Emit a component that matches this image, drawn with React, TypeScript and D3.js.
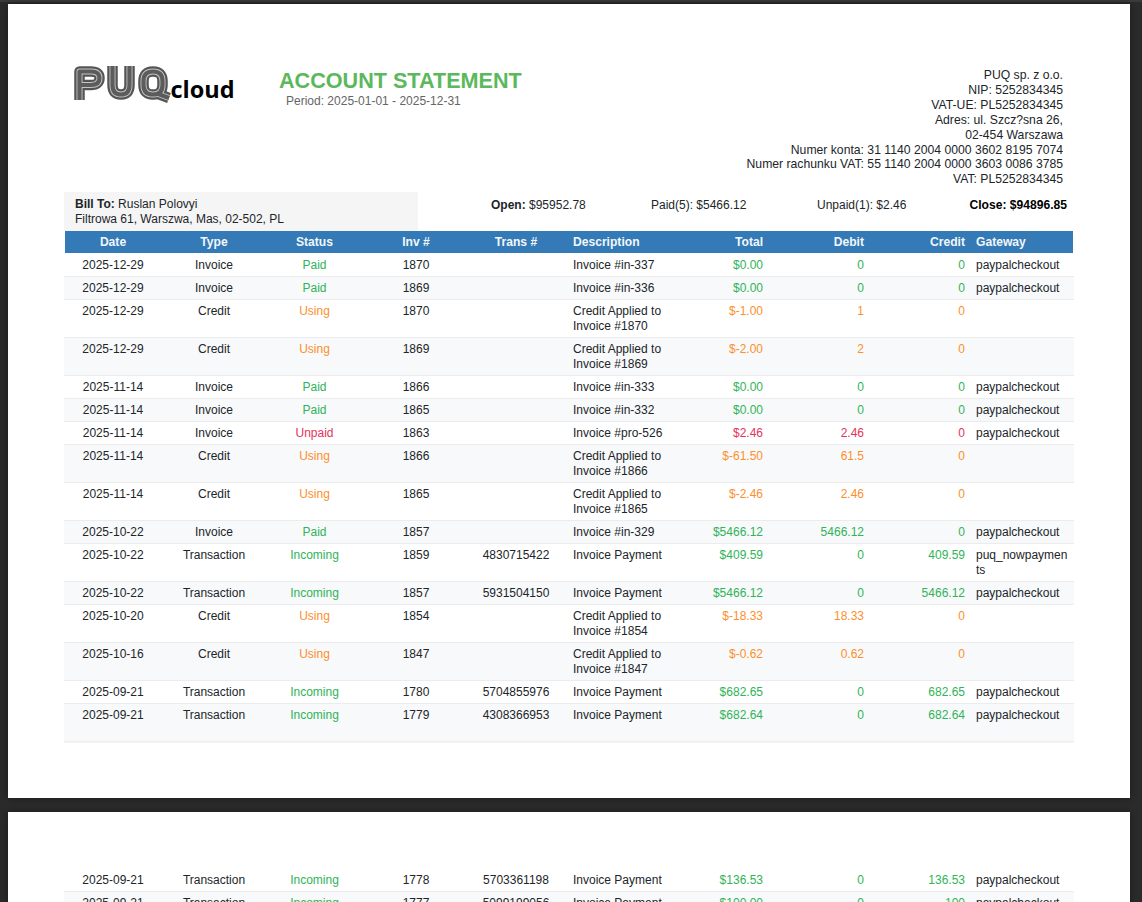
import React from 'react'
import * as d3 from 'd3'

const dates = ['2025-12-29', '2025-12-29', '2025-12-29', '2025-12-29', '2025-11-14', '2025-11-14', '2025-11-14', '2025-11-14', '2025-11-14', '2025-10-22', '2025-10-22', '2025-10-22', '2025-10-20', '2025-10-16', '2025-09-21', '2025-09-21']
const types = ['Invoice', 'Invoice', 'Credit', 'Credit', 'Invoice', 'Invoice', 'Invoice', 'Credit', 'Credit', 'Invoice', 'Transaction', 'Transaction', 'Credit', 'Credit', 'Transaction', 'Transaction']
const statuses = ['Paid', 'Paid', 'Using', 'Using', 'Paid', 'Paid', 'Unpaid', 'Using', 'Using', 'Paid', 'Incoming', 'Incoming', 'Using', 'Using', 'Incoming', 'Incoming']
const invoices = ['1870', '1869', '1870', '1869', '1866', '1865', '1863', '1866', '1865', '1857', '1859', '1857', '1854', '1847', '1780', '1779']
const transIds = ['', '', '', '', '', '', '', '', '', '', '4830715422', '5931504150', '', '', '5704855976', '4308366953']
const descriptions = [['Invoice #in-337'], ['Invoice #in-336'], ['Credit Applied to', 'Invoice #1870'], ['Credit Applied to', 'Invoice #1869'], ['Invoice #in-333'], ['Invoice #in-332'], ['Invoice #pro-526'], ['Credit Applied to', 'Invoice #1866'], ['Credit Applied to', 'Invoice #1865'], ['Invoice #in-329'], ['Invoice Payment'], ['Invoice Payment'], ['Credit Applied to', 'Invoice #1854'], ['Credit Applied to', 'Invoice #1847'], ['Invoice Payment'], ['Invoice Payment']]
const totals = ['$0.00', '$0.00', '$-1.00', '$-2.00', '$0.00', '$0.00', '$2.46', '$-61.50', '$-2.46', '$5466.12', '$409.59', '$5466.12', '$-18.33', '$-0.62', '$682.65', '$682.64']
const debits = ['0', '0', '1', '2', '0', '0', '2.46', '61.5', '2.46', '5466.12', '0', '0', '18.33', '0.62', '0', '0']
const credits = ['0', '0', '0', '0', '0', '0', '0', '0', '0', '0', '409.59', '5466.12', '0', '0', '682.65', '682.64']
const gateways = [['paypalcheckout'], ['paypalcheckout'], [], [], ['paypalcheckout'], ['paypalcheckout'], ['paypalcheckout'], [], [], ['paypalcheckout'], ['puq_nowpaymen', 'ts'], ['paypalcheckout'], [], [], ['paypalcheckout'], ['paypalcheckout']]

const nextDates = ['2025-09-21', '2025-09-21']
const nextTypes = ['Transaction', 'Transaction']
const nextStatuses = ['Incoming', 'Incoming']
const nextInvoices = ['1778', '1777']
const nextTransIds = ['5703361198', '5099199056']
const nextDescriptions = [['Invoice Payment'], ['Invoice Payment']]
const nextTotals = ['$136.53', '$100.00']
const nextDebits = ['0', '0']
const nextCredits = ['136.53', '100']
const nextGateways = [['paypalcheckout'], ['paypalcheckout']]

const headers = ['Date', 'Type', 'Status', 'Inv #', 'Trans #', 'Description', 'Total', 'Debit', 'Credit', 'Gateway']
const companyLines = ['PUQ sp. z o.o.', 'NIP: 5252834345', 'VAT-UE: PL5252834345', 'Adres: ul. Szcz?sna 26,', '02-454 Warszawa', 'Numer konta: 31 1140 2004 0000 3602 8195 7074', 'Numer rachunku VAT: 55 1140 2004 0000 3603 0086 3785', 'VAT: PL5252834345']

const FONT = '"Liberation Sans", Arial, sans-serif'
const BLUE = '#337ab7'

const statusColor = d3.scaleOrdinal<string, string>()
  .domain(['Paid', 'Incoming', 'Using', 'Unpaid'])
  .range(['#2fb457', '#2fb457', '#fd8f2c', '#e6335a'])

// anchor x of every column, in table order
const colX = d3.scaleOrdinal<string, number>()
  .domain(headers)
  .range([113, 214, 314.5, 416, 516, 573, 763, 864, 965, 976])

const lineH = 15

interface Row {
  date: string; type: string; status: string; inv: string; trans: string
  desc: string[]; total: string; debit: string; credit: string; gate: string[]; tall?: boolean
}

const rowHeight = (r: Row) => (r.tall || Math.max(r.desc.length, r.gate.length, 1) === 2 ? 38 : 23)

const buildRows = (d: string[], t: string[], s: string[], i: string[], tr: string[], de: string[][], to: string[], db: string[], cr: string[], g: string[][]): Row[] =>
  d.map((date, k) => ({ date, type: t[k], status: s[k], inv: i[k], trans: tr[k], desc: de[k], total: to[k], debit: db[k], credit: cr[k], gate: g[k] }))

const rows = buildRows(dates, types, statuses, invoices, transIds, descriptions, totals, debits, credits, gateways)
rows[rows.length - 1].tall = true // last row on the sheet is stretched
const nextRows = buildRows(nextDates, nextTypes, nextStatuses, nextInvoices, nextTransIds, nextDescriptions, nextTotals, nextDebits, nextCredits, nextGateways)

const TableRows: React.FC<{ data: Row[]; top: number }> = ({ data, top }) => {
  let y = top
  return (
    <g fontFamily={FONT} fontSize={12}>
      {data.map((r, i) => {
        const h = rowHeight(r)
        const y0 = y
        y += h
        const base = y0 + 15
        const c = statusColor(r.status)
        return (
          <g key={i}>
            <rect x={64} y={y0} width={1010} height={h} fill={i % 2 === 1 ? '#f8f9fa' : '#fff'} />
            <line x1={64} x2={1074} y1={y0 + h - 0.3} y2={y0 + h - 0.3} stroke="#ececec" strokeWidth={1.4} />
            <text x={colX('Date')} y={base} textAnchor="middle" fill="#212529">{r.date}</text>
            <text x={colX('Type')} y={base} textAnchor="middle" fill="#212529">{r.type}</text>
            <text x={colX('Status')} y={base} textAnchor="middle" fill={c}>{r.status}</text>
            <text x={colX('Inv #')} y={base} textAnchor="middle" fill="#212529">{r.inv}</text>
            <text x={colX('Trans #')} y={base} textAnchor="middle" fill="#212529">{r.trans}</text>
            {r.desc.map((l, j) => <text key={j} x={colX('Description')} y={base + j * lineH} fill="#212529">{l}</text>)}
            <text x={colX('Total')} y={base} textAnchor="end" fill={c}>{r.total}</text>
            <text x={colX('Debit')} y={base} textAnchor="end" fill={c}>{r.debit}</text>
            <text x={colX('Credit')} y={base} textAnchor="end" fill={c}>{r.credit}</text>
            {r.gate.map((l, j) => <text key={j} x={colX('Gateway')} y={base + j * lineH} fill="#212529">{l}</text>)}
          </g>
        )
      })}
    </g>
  )
}

// striped PUQ letters: same paths stroked three times, wide to narrow
const Logo = () => (
  <g>
    <g fill="none" strokeLinejoin="round">
      {[{ w: 10.5, c: '#555' }, { w: 6, c: '#c4c4c4' }, { w: 4.2, c: '#5c5c5c' }].map((s, i) => (
        <g key={i} stroke={s.c} strokeWidth={s.w}>
          <path d="M79.5 100V71.5H91Q99.5 71.5 99.5 78Q99.5 85 91 85H79.5" />
          <path d="M112.5 66V85Q112.5 94.5 121 94.5Q129.5 94.5 129.5 85V66" />
          <path d="M153 71.5Q162.5 71.5 162.5 81V85Q162.5 94.5 153 94.5Q143.5 94.5 143.5 85V81Q143.5 71.5 153 71.5Z" />
          <path d="M157 93.5L169 98" />
        </g>
      ))}
    </g>
    <text x={170.5} y={98} fill="#000" fontFamily="'Open Sans', sans-serif" fontWeight={700} fontSize={23.5}>cloud</text>
  </g>
)

export default function App() {
  return (
    <svg width={1142} height={902} viewBox="0 0 1142 902" style={{ position: 'fixed', left: 0, top: 0 }}>
      <defs>
        <filter id="sheet" x="-5%" y="-5%" width="110%" height="110%">
          <feDropShadow dx={0} dy={0} stdDeviation={4} floodColor="#000" floodOpacity={0.35} />
        </filter>
      </defs>
      <rect width={1142} height={902} fill="#2a2a2a" />
      <rect width={1142} height={2} fill="#3a3a3a" />
      <rect x={8} y={4} width={1122} height={794} fill="#fff" filter="url(#sheet)" />
      <rect x={8} y={812} width={1122} height={100} fill="#fff" filter="url(#sheet)" />

      <Logo />
      <g fontFamily={FONT}>
        <text x={279} y={88} fontSize={21.6} fontWeight={700} fill="#5cb85c">ACCOUNT STATEMENT</text>
        <text x={286} y={105} fontSize={12} fill="#666">Period: 2025-01-01 - 2025-12-31</text>
        {companyLines.map((l, i) => (
          <text key={i} x={1063} y={79 + i * 14.9} fontSize={12.2} textAnchor="end" fill="#212529">{l}</text>
        ))}

        <rect x={64} y={192} width={354} height={39} fill="#f5f5f5" />
        <text x={75} y={208} fontSize={12} fill="#212529"><tspan fontWeight={700}>Bill To:</tspan> Ruslan Polovyi</text>
        <text x={75} y={223} fontSize={12} fill="#212529">Filtrowa 61, Warszwa, Mas, 02-502, PL</text>

        <text x={491} y={209} fontSize={12} fill="#212529"><tspan fontWeight={700}>Open:</tspan> $95952.78</text>
        <text x={651} y={209} fontSize={12} fill="#212529">Paid(5): $5466.12</text>
        <text x={817} y={209} fontSize={12} fill="#212529">Unpaid(1): $2.46</text>
        <text x={1067} y={209} fontSize={12.1} fontWeight={700} textAnchor="end" fill="#000">Close: $94896.85</text>

        <rect x={65} y={231} width={1008} height={22} fill={BLUE} />
        <g fontSize={12.1} fontWeight={700} fill="#f2f6fa">
          {headers.map(h => {
            const anchor = h === 'Description' || h === 'Gateway' ? 'start' : ['Total', 'Debit', 'Credit'].includes(h) ? 'end' : 'middle'
            return <text key={h} x={colX(h)} y={246} textAnchor={anchor}>{h}</text>
          })}
        </g>
      </g>

      <TableRows data={rows} top={254} />
      <TableRows data={nextRows} top={869} />
    </svg>
  )
}
